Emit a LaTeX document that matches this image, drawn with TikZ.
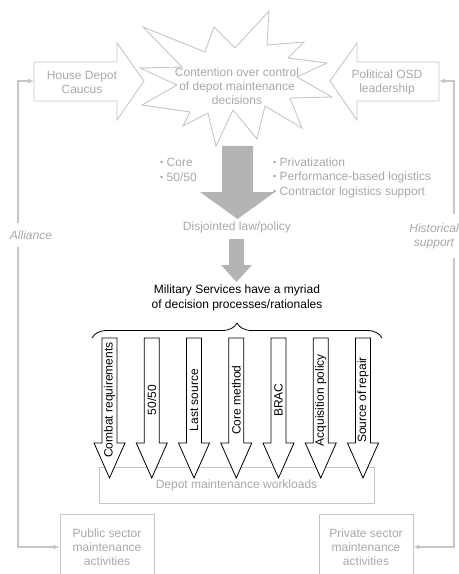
\documentclass[tikz,border=0pt]{standalone}
\usepackage{fontspec}
\setmainfont{Liberation Sans}
\usetikzlibrary{decorations.pathreplacing,arrows.meta}

\definecolor{softtext}{HTML}{A8A8A8}
\definecolor{softline}{HTML}{C6C6C6}
\definecolor{flowfill}{HTML}{B4B4B4}

% small round bullet for the policy lists
\newcommand\policydot{\raisebox{0.08em}{\scalebox{0.75}{\textbullet}}\ }

\begin{document}
\begin{tikzpicture}[x=1bp,y=-1bp,line join=miter,
  every node/.style={font=\fontsize{12bp}{14bp}\selectfont,inner sep=0pt},
  softlabel/.style={text=softtext,align=center},
  softbox/.style={draw=softline,line width=0.9bp},
  flowarrow/.style={fill=flowfill,draw=none},
  choice/.style={draw=black,fill=white,line width=0.8bp},
  sidelink/.style={draw=softline,line width=1.1bp,
    {Latex[length=6bp,width=5bp]}-{Latex[length=6bp,width=5bp]}},
]
\useasboundingbox (0,0) rectangle (459,574);

% --- top row: two pressure groups pushing on the contention burst ---
\draw[softbox] (34,62) -- (117,62) -- (117,43) -- (144,81) -- (117,120)
  -- (117,101) -- (34,101) -- cycle;
\node[softlabel] (caucus) at (82,82) {House Depot\\Caucus};
\coordinate (caucustail) at (34,81);

\draw[softbox] (439,62) -- (357,62) -- (357,43) -- (330,81) -- (357,120)
  -- (357,101) -- (439,101) -- cycle;
\node[softlabel] (osd) at (387,82) {Political OSD\\leadership};
\coordinate (osdtail) at (439,81);

\draw[softbox] (143,27) -- (205,52) -- (214,27) -- (235,48) -- (269,11)
  -- (267,45) -- (304,42) -- (288,58) -- (327,63) -- (297,77) -- (332,97)
  -- (290,98) -- (302,128) -- (265,106) -- (257,139) -- (233,110)
  -- (216,146) -- (208,113) -- (183,126) -- (190,112) -- (142,105)
  -- (177,85) -- (140,68) -- (182,67) -- cycle;
\node[softlabel] (contention) at (237,86)
  {Contention over control\\of depot maintenance\\decisions};

% --- policy flow ---
\fill[flowarrow] (222,146) -- (253,146) -- (253,192) -- (275,192)
  -- (237.5,219) -- (200,192) -- (222,192) -- cycle;
\node[softlabel,align=left,anchor=west,font=\fontsize{12bp}{14.5bp}\selectfont]
  (publicpol) at (160,170) {\policydot Core\\\policydot 50/50};
\node[softlabel,align=left,anchor=west,font=\fontsize{12bp}{14.5bp}\selectfont]
  (privatepol) at (273,177.5)
  {\policydot Privatization\\\policydot Performance-based logistics\\\policydot Contractor logistics support};
\node[softlabel] (policy) at (237,227) {Disjointed law/policy};

\fill[flowarrow] (229,239) -- (244,239) -- (244,265) -- (252,265)
  -- (236.5,282) -- (221,265) -- (229,265) -- cycle;

\node[align=center,font=\fontsize{12bp}{14.5bp}\selectfont] (services) at (237,298)
  {Military Services have a myriad\\of decision processes/rationales};
\draw[decorate,decoration={brace,amplitude=15bp},line width=0.8bp]
  (92,338) -- (382,338);

% --- workloads and the processes feeding them ---
\node[softbox,softlabel,minimum width=275bp,minimum height=36bp]
  (workloads) at (236.5,485) {Depot maintenance workloads};

\foreach \x/\lbl/\nm in {109.5/Combat requirements/r1,151.75/{50/50}/r2,
    194/Last source/r3,236.25/Core method/r4,278.5/BRAC/r5,
    320.75/Acquisition policy/r6,363/Source of repair/r7}{
  \draw[choice] (\x-7.5,338) -- (\x+7.5,338) -- (\x+7.5,443) -- (\x+15.5,443)
    -- (\x,478) -- (\x-15.5,443) -- (\x-7.5,443) -- cycle;
  \node[rotate=90] (\nm) at (\x,400) {\lbl};
}

% --- sector activities and the side feedback loops ---
\node[softbox,softlabel,minimum width=94bp,minimum height=66bp]
  (public) at (107,547) {Public sector\\maintenance\\activities};
\node[softbox,softlabel,minimum width=94bp,minimum height=66bp]
  (private) at (366,547) {Private sector\\maintenance\\activities};

\coordinate (leftrail) at (18,300);
\coordinate (rightrail) at (454,300);
\draw[sidelink] (caucustail) -| (leftrail) |- (public.west);
\draw[sidelink] (osdtail) -| (rightrail) |- (private.east);

\node[softlabel,fill=white,inner xsep=2bp,inner ysep=8bp] (alliance) at (31,235)
  {\itshape Alliance};
\node[softlabel,fill=white,inner xsep=2bp,inner ysep=9bp] (history) at (434,236)
  {\itshape Historical\\\itshape support};
\end{tikzpicture}
\end{document}
